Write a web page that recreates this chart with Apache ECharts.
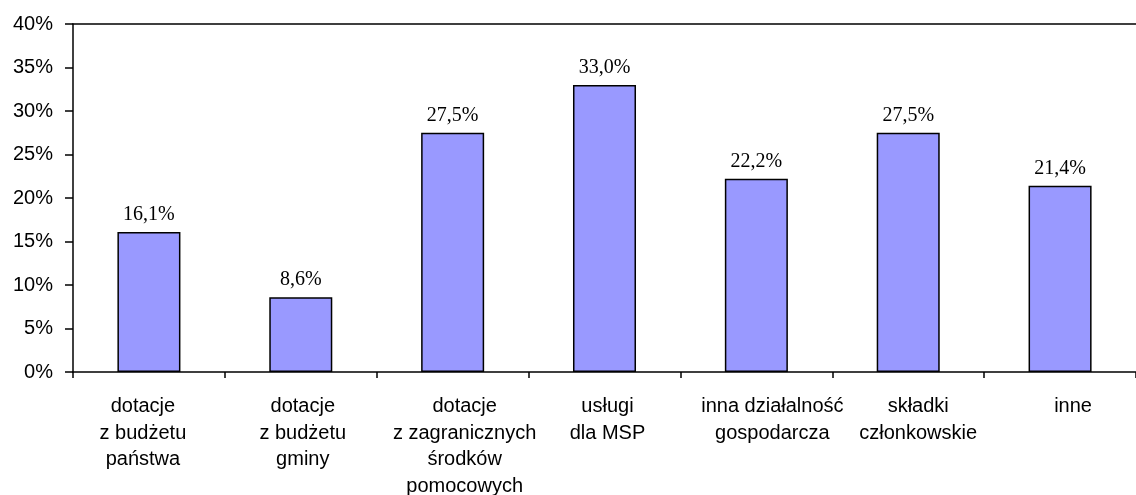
<!DOCTYPE html>
<html>
<head>
<meta charset="utf-8">
<script src="https://cdn.jsdelivr.net/npm/echarts@6/dist/echarts.min.js"></script>
<style>
  html, body { margin: 0; padding: 0; background: #fff; }
  #chart { width: 1136px; height: 495px; }
</style>
</head>
<body>
<div id="chart"></div>
<script>
// Source categories (Polish labels, line breaks as shown under the axis)
const categories = [
  'dotacje\nz budżetu\npaństwa',
  'dotacje\nz budżetu\ngminy',
  'dotacje\nz zagranicznych\nśrodków\npomocowych',
  'usługi\ndla MSP',
  'inna działalność\ngospodarcza',
  'składki\nczłonkowskie',
  'inne'
];
// Share of organisations per funding source, in percent
const values = [16.1, 8.6, 27.5, 33.0, 22.2, 27.5, 21.4];
// Value axis ticks
const yMin = 0, yMax = 40, yStep = 5;

// Horizontal nudge (px) of each category label relative to its slot centre
const labelNudge = [-6, 2, 12, 3, 16, 10, 13];

const categoryItems = categories.map((name, i) => {
  const n = labelNudge[i];
  return {
    value: name,
    textStyle: { padding: n >= 0 ? [0, 0, 0, 2 * n] : [0, -2 * n, 0, 0] }
  };
});

const chart = echarts.init(document.getElementById('chart'), null, { renderer: 'canvas' });

chart.setOption({
  animation: false,
  backgroundColor: '#ffffff',
  grid: { left: 73, right: 0, top: 24, bottom: 123, containLabel: false, outerBoundsMode: 'none' },
  xAxis: [
    {
      type: 'category',
      data: categoryItems,
      position: 'bottom',
      axisLine: { show: true, lineStyle: { color: '#000', width: 1.5 } },
      axisTick: { show: true, alignWithLabel: false, length: 6, lineStyle: { color: '#000', width: 1.5 } },
      axisLabel: {
        color: '#000',
        fontFamily: 'Liberation Sans, Arial, sans-serif',
        fontSize: 20,
        lineHeight: 26.7,
        margin: 21,
        interval: 0
      }
    },
    {
      // top frame line of the plot area
      type: 'category',
      data: categories,
      position: 'top',
      axisLine: { show: true, lineStyle: { color: '#000', width: 1.5 } },
      axisTick: { show: false },
      axisLabel: { show: false }
    }
  ],
  yAxis: {
    type: 'value',
    min: yMin,
    max: yMax,
    interval: yStep,
    axisLine: { show: true, lineStyle: { color: '#000', width: 1.5 } },
    axisTick: { show: true, length: 8, lineStyle: { color: '#000', width: 1.5 } },
    splitLine: { show: false },
    axisLabel: {
      color: '#000',
      fontFamily: 'Liberation Sans, Arial, sans-serif',
      fontSize: 20,
      margin: 20,
      formatter: v => v + '%'
    }
  },
  series: [{
    type: 'bar',
    xAxisIndex: 0,
    data: values,
    barWidth: '41.5%',
    itemStyle: { color: '#9999ff', borderColor: '#000', borderWidth: 1.5 },
    label: {
      show: true,
      position: 'top',
      distance: 7,
      color: '#000',
      fontFamily: 'Liberation Serif, Times New Roman, serif',
      fontSize: 20,
      formatter: p => p.value.toFixed(1).replace('.', ',') + '%'
    }
  }]
});
</script>
</body>
</html>
